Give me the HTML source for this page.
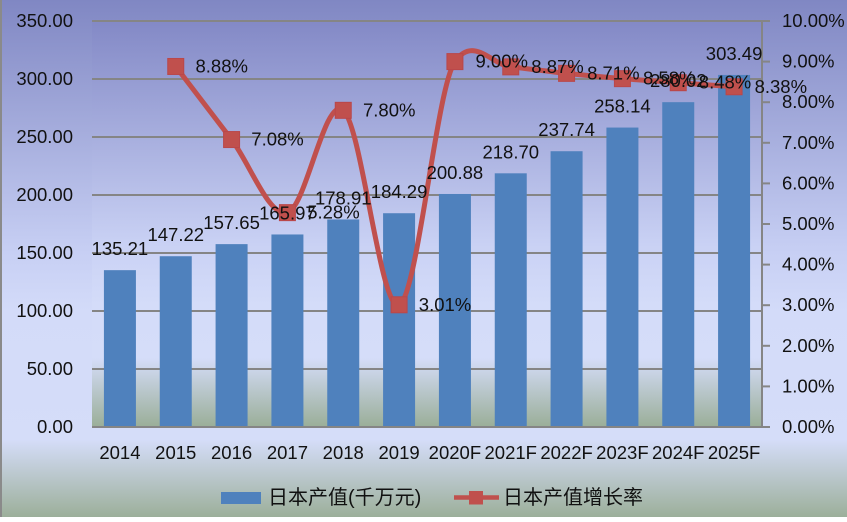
<!DOCTYPE html>
<html><head><meta charset="utf-8"><style>
html,body{margin:0;padding:0;}
body{width:847px;height:517px;overflow:hidden;}
svg text{font-family:"Liberation Sans","Noto Sans CJK SC",sans-serif;fill:#111;}
</style></head><body>
<svg width="847" height="517" viewBox="0 0 847 517" xmlns="http://www.w3.org/2000/svg">
<defs>
<linearGradient id="bg" x1="0" y1="0" x2="0" y2="1">
<stop offset="0" stop-color="#8087c3"/>
<stop offset="0.48" stop-color="#c6cef3"/>
<stop offset="0.6" stop-color="#d3dbf9"/>
<stop offset="0.85" stop-color="#d5ddf9"/>
<stop offset="1" stop-color="#9caf9a"/>
</linearGradient>
<linearGradient id="pa" x1="0" y1="0" x2="0" y2="1">
<stop offset="0" stop-color="#8389c6"/>
<stop offset="0.55" stop-color="#c9d1f4"/>
<stop offset="0.7" stop-color="#d4dcf9"/>
<stop offset="0.83" stop-color="#d5ddf9"/>
<stop offset="1" stop-color="#9aae98"/>
</linearGradient>
</defs>
<rect x="0" y="0" width="847" height="517" fill="url(#bg)"/>
<rect x="0" y="0" width="2" height="517" fill="#8a8a8a"/>
<rect x="92" y="21" width="670" height="406" fill="url(#pa)"/>
<g stroke="#858585" stroke-width="2">
<line x1="92" y1="21" x2="762" y2="21"/>
<line x1="92" y1="79" x2="762" y2="79"/>
<line x1="92" y1="137" x2="762" y2="137"/>
<line x1="92" y1="195" x2="762" y2="195"/>
<line x1="92" y1="253" x2="762" y2="253"/>
<line x1="92" y1="311" x2="762" y2="311"/>
<line x1="92" y1="369" x2="762" y2="369"/>
</g>
<g fill="#4f81bd">
<rect x="103.92" y="270.16" width="32" height="156.84"/>
<rect x="159.75" y="256.22" width="32" height="170.78"/>
<rect x="215.58" y="244.13" width="32" height="182.87"/>
<rect x="271.42" y="234.47" width="32" height="192.53"/>
<rect x="327.25" y="219.46" width="32" height="207.54"/>
<rect x="383.08" y="213.22" width="32" height="213.78"/>
<rect x="438.92" y="193.98" width="32" height="233.02"/>
<rect x="494.75" y="173.31" width="32" height="253.69"/>
<rect x="550.58" y="151.22" width="32" height="275.78"/>
<rect x="606.42" y="127.56" width="32" height="299.44"/>
<rect x="662.25" y="102.18" width="32" height="324.82"/>
<rect x="718.08" y="74.95" width="32" height="352.05"/>
</g>
<g stroke="#858585" stroke-width="2">
<line x1="92" y1="427" x2="762" y2="427"/>
<line x1="762" y1="21" x2="762" y2="428"/>
<line x1="762" y1="21" x2="770" y2="21"/>
<line x1="762" y1="61.6" x2="770" y2="61.6"/>
<line x1="762" y1="102.2" x2="770" y2="102.2"/>
<line x1="762" y1="142.8" x2="770" y2="142.8"/>
<line x1="762" y1="183.4" x2="770" y2="183.4"/>
<line x1="762" y1="224" x2="770" y2="224"/>
<line x1="762" y1="264.6" x2="770" y2="264.6"/>
<line x1="762" y1="305.2" x2="770" y2="305.2"/>
<line x1="762" y1="345.8" x2="770" y2="345.8"/>
<line x1="762" y1="386.4" x2="770" y2="386.4"/>
<line x1="762" y1="427" x2="770" y2="427"/>
</g>
<path d="M175.75 66.47 C185.06 78.65 212.97 115.19 231.58 139.55 C250.19 163.91 268.81 217.5 287.42 212.63 C306.03 207.76 324.64 94.96 343.25 110.32 C361.86 125.68 380.47 312.91 399.08 304.79 C417.69 296.67 436.31 88.2 454.92 61.6 C473.53 35 492.14 64.92 510.75 66.88 C529.36 68.84 547.97 71.41 566.58 73.37 C585.19 75.33 603.81 77.09 622.42 78.65 C641.03 80.21 659.64 81.36 678.25 82.71 C696.86 84.06 724.77 86.09 734.08 86.77" fill="none" stroke="#c0504d" stroke-width="5" stroke-linejoin="round"/>
<g fill="#c0504d" stroke="#b9474a" stroke-width="1">
<rect x="167.75" y="58.47" width="16" height="16"/>
<rect x="223.58" y="131.55" width="16" height="16"/>
<rect x="279.42" y="204.63" width="16" height="16"/>
<rect x="335.25" y="102.32" width="16" height="16"/>
<rect x="391.08" y="296.79" width="16" height="16"/>
<rect x="446.92" y="53.6" width="16" height="16"/>
<rect x="502.75" y="58.88" width="16" height="16"/>
<rect x="558.58" y="65.37" width="16" height="16"/>
<rect x="614.42" y="70.65" width="16" height="16"/>
<rect x="670.25" y="74.71" width="16" height="16"/>
<rect x="726.08" y="78.77" width="16" height="16"/>
</g>
<g font-size="18.5" text-anchor="end">
<text x="73" y="27">350.00</text>
<text x="73" y="85">300.00</text>
<text x="73" y="143">250.00</text>
<text x="73" y="201">200.00</text>
<text x="73" y="259">150.00</text>
<text x="73" y="317">100.00</text>
<text x="73" y="375">50.00</text>
<text x="73" y="433">0.00</text>
</g>
<g font-size="18.5">
<text x="782" y="27">10.00%</text>
<text x="782" y="67.6">9.00%</text>
<text x="782" y="108.2">8.00%</text>
<text x="782" y="148.8">7.00%</text>
<text x="782" y="189.4">6.00%</text>
<text x="782" y="230">5.00%</text>
<text x="782" y="270.6">4.00%</text>
<text x="782" y="311.2">3.00%</text>
<text x="782" y="351.8">2.00%</text>
<text x="782" y="392.4">1.00%</text>
<text x="782" y="433">0.00%</text>
</g>
<g font-size="18.5" text-anchor="middle">
<text x="119.92" y="459">2014</text>
<text x="175.75" y="459">2015</text>
<text x="231.58" y="459">2016</text>
<text x="287.42" y="459">2017</text>
<text x="343.25" y="459">2018</text>
<text x="399.08" y="459">2019</text>
<text x="454.92" y="459">2020F</text>
<text x="510.75" y="459">2021F</text>
<text x="566.58" y="459">2022F</text>
<text x="622.42" y="459">2023F</text>
<text x="678.25" y="459">2024F</text>
<text x="734.08" y="459">2025F</text>
</g>
<g font-size="18.5" text-anchor="middle">
<text x="119.92" y="255.2">135.21</text>
<text x="175.75" y="241.2">147.22</text>
<text x="231.58" y="229.1">157.65</text>
<text x="287.42" y="219.5">165.97</text>
<text x="343.25" y="204.5">178.91</text>
<text x="399.08" y="198.2">184.29</text>
<text x="454.92" y="179">200.88</text>
<text x="510.75" y="158.3">218.70</text>
<text x="566.58" y="136.2">237.74</text>
<text x="622.42" y="112.6">258.14</text>
<text x="678.25" y="87.2">280.02</text>
<text x="734.08" y="59.9">303.49</text>
</g>
<g font-size="18.5">
<text x="195.5" y="72.5">8.88%</text>
<text x="251.3" y="145.6">7.08%</text>
<text x="307.2" y="218.6">5.28%</text>
<text x="363" y="116.3">7.80%</text>
<text x="418.8" y="310.8">3.01%</text>
<text x="475.5" y="67.6">9.00%</text>
<text x="531.3" y="72.9">8.87%</text>
<text x="587.1" y="79.4">8.71%</text>
<text x="643" y="84.6">8.58%</text>
<text x="698.8" y="88.7">8.48%</text>
<text x="754.6" y="92.8">8.38%</text>
</g>
<rect x="221" y="492" width="40" height="12" fill="#4f81bd"/>
<text x="268" y="504" font-size="20" fill="#222">日本产值(千万元)</text>
<line x1="454" y1="497.5" x2="499" y2="497.5" stroke="#c0504d" stroke-width="4.5"/>
<rect x="469" y="491" width="14" height="13.5" fill="#c0504d"/>
<text x="503" y="504" font-size="20" fill="#222">日本产值增长率</text>
</svg>
</body></html>
